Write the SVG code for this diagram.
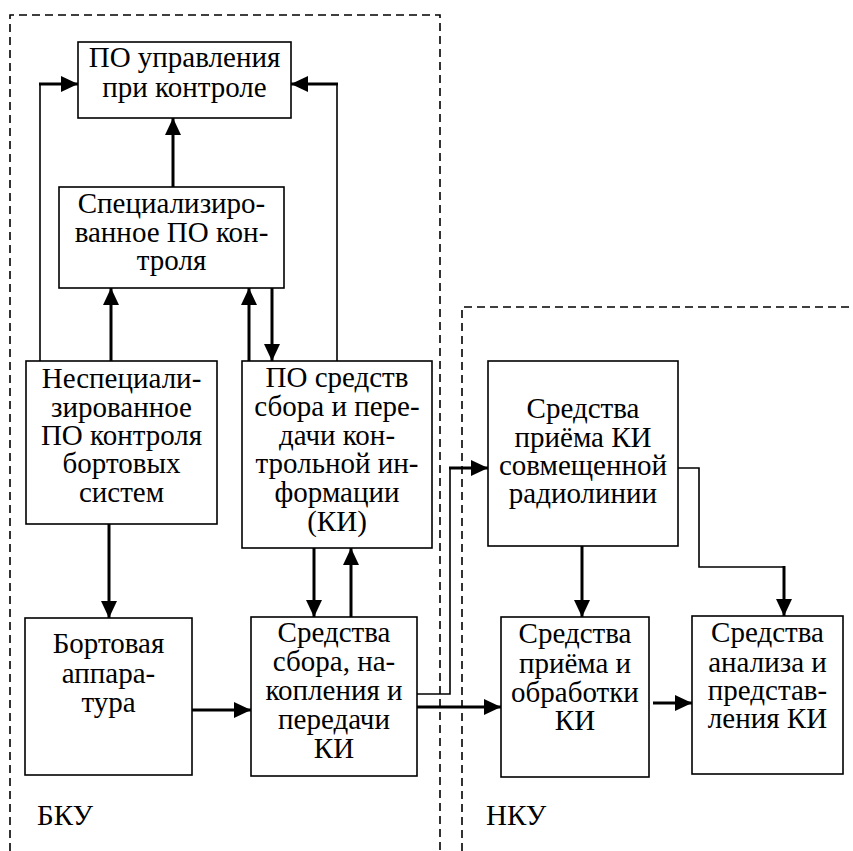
<svg xmlns="http://www.w3.org/2000/svg" width="853" height="851" viewBox="0 0 853 851">
  <style>
    .box { fill: #fff; stroke: #000; stroke-width: 1.6; }
    .lbl { font-family: "Liberation Serif", "Times New Roman", "DejaVu Serif", serif; font-size: 29px; fill: #000; text-anchor: middle; }
    .zone { font-family: "Liberation Serif", "Times New Roman", "DejaVu Serif", serif; font-size: 29px; fill: #000; }
    .border { fill: none; stroke: #000; stroke-width: 1.6; stroke-dasharray: 8 5; }
    .thick { fill: none; stroke: #000; stroke-width: 3; }
    .thin { fill: none; stroke: #000; stroke-width: 1.6; }
  </style>
  <defs>
    <marker id="arr" markerUnits="userSpaceOnUse" markerWidth="18" markerHeight="16" refX="17" refY="8" orient="auto">
      <path d="M0,0 L17,8 L0,16 Z" fill="#000"/>
    </marker>
  </defs>
  <rect width="853" height="851" fill="#fff"/>

  <!-- zone borders: on-board (left) and ground (right) -->
  <g id="borders">
    <path class="border" d="M10,851 V15 H440 V851"/>
    <path class="border" d="M462,851 V307 H853"/>
    <text class="zone" x="37" y="825">БКУ</text>
    <text class="zone" x="486" y="825">НКУ</text>
  </g>

  <!-- connectors -->
  <g id="connectors">
    <path class="thin" d="M40,361 V84"/>
    <path class="thick" d="M39,84 H78" marker-end="url(#arr)"/>
    <path class="thin" d="M337,361 V84"/>
    <path class="thick" d="M338,84 H291" marker-end="url(#arr)"/>
    <path class="thick" d="M173,187 V118" marker-end="url(#arr)"/>
    <path class="thick" d="M111,361 V288" marker-end="url(#arr)"/>
    <path class="thick" d="M249,361 V288" marker-end="url(#arr)"/>
    <path class="thick" d="M272,288 V361" marker-end="url(#arr)"/>
    <path class="thick" d="M109,524 V618" marker-end="url(#arr)"/>
    <path class="thick" d="M314,548 V617" marker-end="url(#arr)"/>
    <path class="thick" d="M351,617 V548" marker-end="url(#arr)"/>
    <path class="thick" d="M192,710 H251" marker-end="url(#arr)"/>
    <path class="thin" d="M417,694 H450 V468"/>
    <path class="thick" d="M449,468 H488" marker-end="url(#arr)"/>
    <path class="thick" d="M417,707 H501" marker-end="url(#arr)"/>
    <path class="thick" d="M582,546 V617" marker-end="url(#arr)"/>
    <path class="thin" d="M678,468 H699 V567 H785"/>
    <path class="thick" d="M784,566 V616" marker-end="url(#arr)"/>
    <path class="thick" d="M653,703 H692" marker-end="url(#arr)"/>
  </g>

  <g id="po-upravleniya">
    <rect class="box" x="78" y="42" width="213" height="76"/>
    <text class="lbl"><tspan x="184.5" y="67">ПО управления</tspan><tspan x="184.5" y="97">при контроле</tspan></text>
  </g>

  <g id="spec-po">
    <rect class="box" x="59" y="187" width="225" height="101"/>
    <text class="lbl"><tspan x="171.5" y="213">Специализиро-</tspan><tspan x="171.5" y="242">ванное ПО кон-</tspan><tspan x="171.5" y="270">троля</tspan></text>
  </g>

  <g id="nespec-po">
    <rect class="box" x="26" y="361" width="191" height="163"/>
    <text class="lbl"><tspan x="121.5" y="388">Неспециали-</tspan><tspan x="121.5" y="417">зированное</tspan><tspan x="121.5" y="445">ПО контроля</tspan><tspan x="121.5" y="473">бортовых</tspan><tspan x="121.5" y="502">систем</tspan></text>
  </g>

  <g id="po-sredstv">
    <rect class="box" x="242" y="361" width="190" height="187"/>
    <text class="lbl"><tspan x="337" y="387">ПО средств</tspan><tspan x="337" y="416">сбора и пере-</tspan><tspan x="337" y="445">дачи кон-</tspan><tspan x="337" y="473">трольной ин-</tspan><tspan x="337" y="502">формации</tspan><tspan x="337" y="531">(КИ)</tspan></text>
  </g>

  <g id="bortovaya">
    <rect class="box" x="25" y="618" width="167" height="157"/>
    <text class="lbl"><tspan x="108.5" y="653">Бортовая</tspan><tspan x="108.5" y="683">аппара-</tspan><tspan x="108.5" y="712">тура</tspan></text>
  </g>

  <g id="sredstva-sbora">
    <rect class="box" x="251" y="617" width="166" height="159"/>
    <text class="lbl"><tspan x="334" y="642">Средства</tspan><tspan x="334" y="671">сбора, на-</tspan><tspan x="334" y="700">копления и</tspan><tspan x="334" y="729">передачи</tspan><tspan x="334" y="758">КИ</tspan></text>
  </g>

  <g id="sredstva-priema-ki">
    <rect class="box" x="488" y="361" width="190" height="185"/>
    <text class="lbl"><tspan x="583" y="418">Средства</tspan><tspan x="583" y="447">приёма КИ</tspan><tspan x="583" y="475">совмещенной</tspan><tspan x="583" y="503">радиолинии</tspan></text>
  </g>

  <g id="sredstva-obrabotki">
    <rect class="box" x="501" y="617" width="148" height="160"/>
    <text class="lbl"><tspan x="575" y="643">Средства</tspan><tspan x="575" y="673">приёма и</tspan><tspan x="575" y="702">обработки</tspan><tspan x="575" y="730">КИ</tspan></text>
  </g>

  <g id="sredstva-analiza">
    <rect class="box" x="692" y="616" width="151" height="158"/>
    <text class="lbl"><tspan x="767.5" y="642">Средства</tspan><tspan x="767.5" y="672">анализа и</tspan><tspan x="767.5" y="700">представ-</tspan><tspan x="767.5" y="728">ления КИ</tspan></text>
  </g>
</svg>
